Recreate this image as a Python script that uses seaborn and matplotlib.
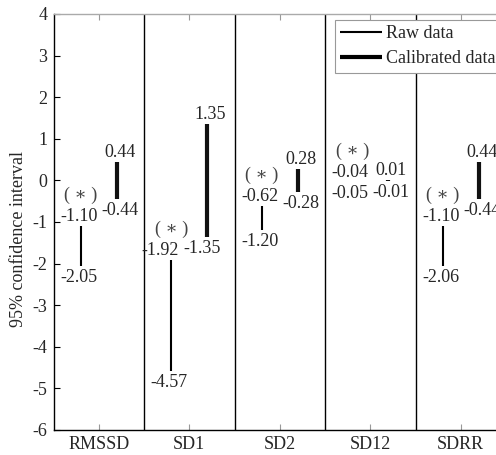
import numpy as np
import pandas as pd
import matplotlib
matplotlib.use('Agg')
import matplotlib.pyplot as plt
from matplotlib.lines import Line2D
import seaborn as sns

# ---------------- data ----------------
categories = ['RMSSD', 'SD1', 'SD2', 'SD12', 'SDRR']
raw_low = [-2.05, -4.57, -1.20, -0.05, -2.06]
raw_high = [-1.10, -1.92, -0.62, -0.04, -1.10]
cal_low = [-0.44, -1.35, -0.28, -0.01, -0.44]
cal_high = [0.44, 1.35, 0.28, 0.01, 0.44]
significant = [True, True, True, True, True]
series_names = ['Raw data', 'Calibrated data']
y_ticks = [-6, -5, -4, -3, -2, -1, 0, 1, 2, 3, 4]
y_label = '95% confidence interval'

# ---------------- style ----------------
sns.set_style('ticks')
plt.rcParams['font.family'] = ['Liberation Serif', 'DejaVu Serif']
plt.rcParams['axes.unicode_minus'] = False
plt.rcParams['font.size'] = 13
FS = 13

x_offset = {'Raw data': -0.2, 'Calibrated data': 0.2}
line_w = {'Raw data': 1.5, 'Calibrated data': 3.0}

rows = []
for i, c in enumerate(categories):
    pairs = [('Raw data', raw_low[i], raw_high[i]),
             ('Calibrated data', cal_low[i], cal_high[i])]
    for s, lo, hi in pairs:
        for end, v in (('low', lo), ('high', hi)):
            rows.append(dict(category=c, series=s, end=end, value=v,
                             xpos=i + 1 + x_offset[s], seg=f'{c}|{s}'))
df = pd.DataFrame(rows)

fig = plt.figure(figsize=(4.96, 4.55), dpi=100)
ax = fig.add_axes([53.5 / 496, 25 / 455, 452.5 / 496, 416 / 455])

sns.lineplot(data=df, x='xpos', y='value', hue='series', size='series',
             sizes=line_w, palette={'Raw data': 'black', 'Calibrated data': '#111111'},
             units='seg', estimator=None, sort=False, legend=False, ax=ax,
             solid_capstyle='butt')

for xs in [1.5, 2.5, 3.5, 4.5]:
    ax.axvline(xs, color='black', lw=1.0)

ax.set_xlim(0.5, 5.5)
ax.set_ylim(-6, 4)
ax.set_xticks(range(1, len(categories) + 1))
ax.set_xticklabels(categories, fontsize=FS)
ax.set_yticks(y_ticks)
ax.set_yticklabels([str(t) for t in y_ticks], fontsize=FS)
ax.set_xlabel('')
ax.set_ylabel(y_label, fontsize=FS)
ax.yaxis.set_label_coords(-0.058, 0.459)

ax.tick_params(axis='x', direction='in', top=True, bottom=True,
               color='#999999', length=4, pad=4)
ax.tick_params(axis='y', direction='in', left=True, right=False,
               color='black', length=4, pad=4.5)
for sp in ['left', 'bottom']:
    ax.spines[sp].set_color('black')
    ax.spines[sp].set_linewidth(1.0)
ax.spines['top'].set_color('#aaaaaa')
ax.spines['top'].set_linewidth(1.0)

# value labels
PX = 0.72  # points per pixel at 100 dpi
nudge = {('SD1', 'Raw data', 'high'): -9 * PX,
         ('SD1', 'Calibrated data', 'low'): -8 * PX}
base_dx = {'Raw data': -2 * PX, 'Calibrated data': 3 * PX}
for _, r in df.iterrows():
    dx = base_dx[r.series] + nudge.get((r.category, r.series, r.end), 0)
    txt = f'{r.value:.2f}'
    if r.end == 'high':
        ax.annotate(txt, (r.xpos, r.value), xytext=(dx, 5 * PX),
                    textcoords='offset points', ha='center', va='baseline',
                    fontsize=FS)
    else:
        ax.annotate(txt, (r.xpos, r.value), xytext=(dx, -3 * PX),
                    textcoords='offset points', ha='center', va='top',
                    fontsize=FS)

for i, c in enumerate(categories):
    if significant[i]:
        ax.annotate('( \u2217 )', (i + 1 + x_offset['Raw data'], raw_high[i]),
                    xytext=(0, 26 * PX), textcoords='offset points',
                    ha='center', va='baseline', fontsize=FS, color='#444444')

handles = [Line2D([], [], color='black', lw=line_w[s], solid_capstyle='butt')
           for s in series_names]
leg = ax.legend(handles=handles, labels=series_names, loc='upper left',
                bbox_to_anchor=(0.622, 0.986), frameon=True, fancybox=False,
                edgecolor='#999999', framealpha=1, handlelength=2.3,
                handletextpad=0.25, borderpad=0.3, labelspacing=0.45,
                fontsize=FS, borderaxespad=0)
leg.get_frame().set_linewidth(0.8)

fig.savefig('out.png', dpi=100)
